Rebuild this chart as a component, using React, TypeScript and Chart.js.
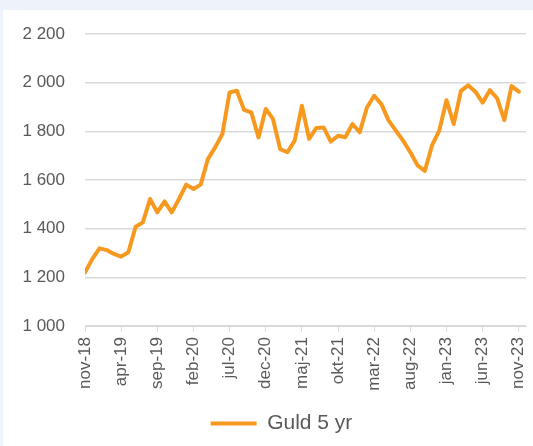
import React, { useEffect, useRef } from "react";
import { Chart, registerables } from "chart.js";

Chart.register(...registerables);

const months = [
  "nov-18","dec-18","jan-19","feb-19","mar-19","apr-19","maj-19","jun-19","jul-19","aug-19","sep-19","okt-19",
  "nov-19","dec-19","jan-20","feb-20","mar-20","apr-20","maj-20","jun-20","jul-20","aug-20","sep-20","okt-20",
  "nov-20","dec-20","jan-21","feb-21","mar-21","apr-21","maj-21","jun-21","jul-21","aug-21","sep-21","okt-21",
  "nov-21","dec-21","jan-22","feb-22","mar-22","apr-22","maj-22","jun-22","jul-22","aug-22","sep-22","okt-22",
  "nov-22","dec-22","jan-23","feb-23","mar-23","apr-23","maj-23","jun-23","jul-23","aug-23","sep-23","okt-23",
  "nov-23",
];

const gold = [
  1220, 1275, 1319, 1312, 1296, 1285, 1303, 1408, 1426, 1522, 1467, 1512,
  1467, 1522, 1581, 1563, 1581, 1686, 1734, 1789, 1960, 1967, 1888, 1878,
  1775, 1892, 1851, 1727, 1714, 1762, 1905, 1769, 1814, 1816, 1758, 1782,
  1776, 1830, 1796, 1898, 1946, 1912, 1844, 1803, 1762, 1714, 1660, 1637,
  1742, 1803, 1928, 1830, 1966, 1989, 1963, 1918, 1969, 1936, 1846, 1986,
  1963,
];

const yTicks = [1000, 1200, 1400, 1600, 1800, 2000, 2200];
const seriesName = "Guld 5 yr";

const fmt = (v: number) => {
  const s = String(Math.round(v));
  return s.length > 3 ? s.slice(0, s.length - 3) + " " + s.slice(-3) : s;
};

const legendShift = {
  id: "legendShift",
  afterLayout(chart: any) {
    const lg = chart.legend;
    if (!lg) return;
    const dx = 15;
    lg.left += dx;
    lg.right += dx;
    if (lg.legendHitBoxes) lg.legendHitBoxes.forEach((b: any) => (b.left += dx));
  },
};

export default function App() {
  const ref = useRef<HTMLCanvasElement | null>(null);
  useEffect(() => {
    if (!ref.current) return;
    const orange = "#f7981f";
    const grey = "#595959";
    const family = "'Liberation Sans', Arial, sans-serif";
    const font = { family, size: 17 };
    const chart = new Chart(ref.current, {
      type: "line",
      plugins: [legendShift],
      data: {
        datasets: [
          {
            label: seriesName,
            data: gold.map((v, i) => ({ x: i, y: v })),
            borderColor: orange,
            backgroundColor: orange,
            borderWidth: 4,
            pointRadius: 0,
            tension: 0,
            borderJoinStyle: "round",
            borderCapStyle: "round",
          },
        ],
      },
      options: {
        animation: false,
        responsive: false,
        maintainAspectRatio: false,
        layout: { padding: { top: 34, right: 0, left: 0, bottom: 2 } },
        scales: {
          x: {
            type: "linear",
            min: 0,
            max: 61,
            afterBuildTicks: (s: any) => {
              const t = [];
              for (let i = 0; i < months.length; i += 5) t.push({ value: i });
              s.ticks = t;
            },
            afterFit: (s: any) => {
              s.height = 69;
              s.paddingRight = 7;
            },
            grid: {
              display: true,
              drawOnChartArea: false,
              drawTicks: true,
              tickLength: 6,
              color: "#d9d9d9",
            },
            border: { display: true, color: "#d9d9d9" },
            ticks: {
              autoSkip: false,
              minRotation: 90,
              maxRotation: 90,
              padding: 5,
              color: grey,
              font,
              callback: (v: any) => months[Number(v)] ?? "",
            },
          },
          y: {
            min: 1000,
            max: 2200,
            afterBuildTicks: (s: any) => {
              s.ticks = yTicks.map((v) => ({ value: v }));
            },
            afterFit: (s: any) => {
              s.width = 85;
            },
            grid: { color: "#d9d9d9", drawTicks: false, lineWidth: 1.5 },
            border: { display: false },
            ticks: {
              padding: 20,
              color: grey,
              font,
              callback: (v: any) => fmt(Number(v)),
            },
          },
        },
        plugins: {
          tooltip: { enabled: false },
          legend: {
            position: "bottom",
            labels: {
              color: grey,
              font: { family, size: 21 },
              boxWidth: 46,
              boxHeight: 4,
              padding: 18,
              generateLabels: () => [
                {
                  text: seriesName,
                  fillStyle: orange,
                  strokeStyle: orange,
                  lineWidth: 0,
                  fontColor: grey,
                  datasetIndex: 0,
                } as any,
              ],
            },
          },
        },
      },
    });
    return () => chart.destroy();
  }, []);

  return (
    <div
      style={{
        position: "fixed",
        left: 0,
        top: 0,
        width: 533,
        height: 446,
        background: "#eef2fa",
        overflow: "hidden",
      }}
    >
      <div
        style={{
          position: "absolute",
          left: 3,
          top: 10,
          width: 530,
          height: 436,
          background: "#ffffff",
        }}
      />
      <canvas
        ref={ref}
        width={533}
        height={446}
        style={{ position: "absolute", left: 0, top: 0, width: 533, height: 446 }}
      />
    </div>
  );
}
